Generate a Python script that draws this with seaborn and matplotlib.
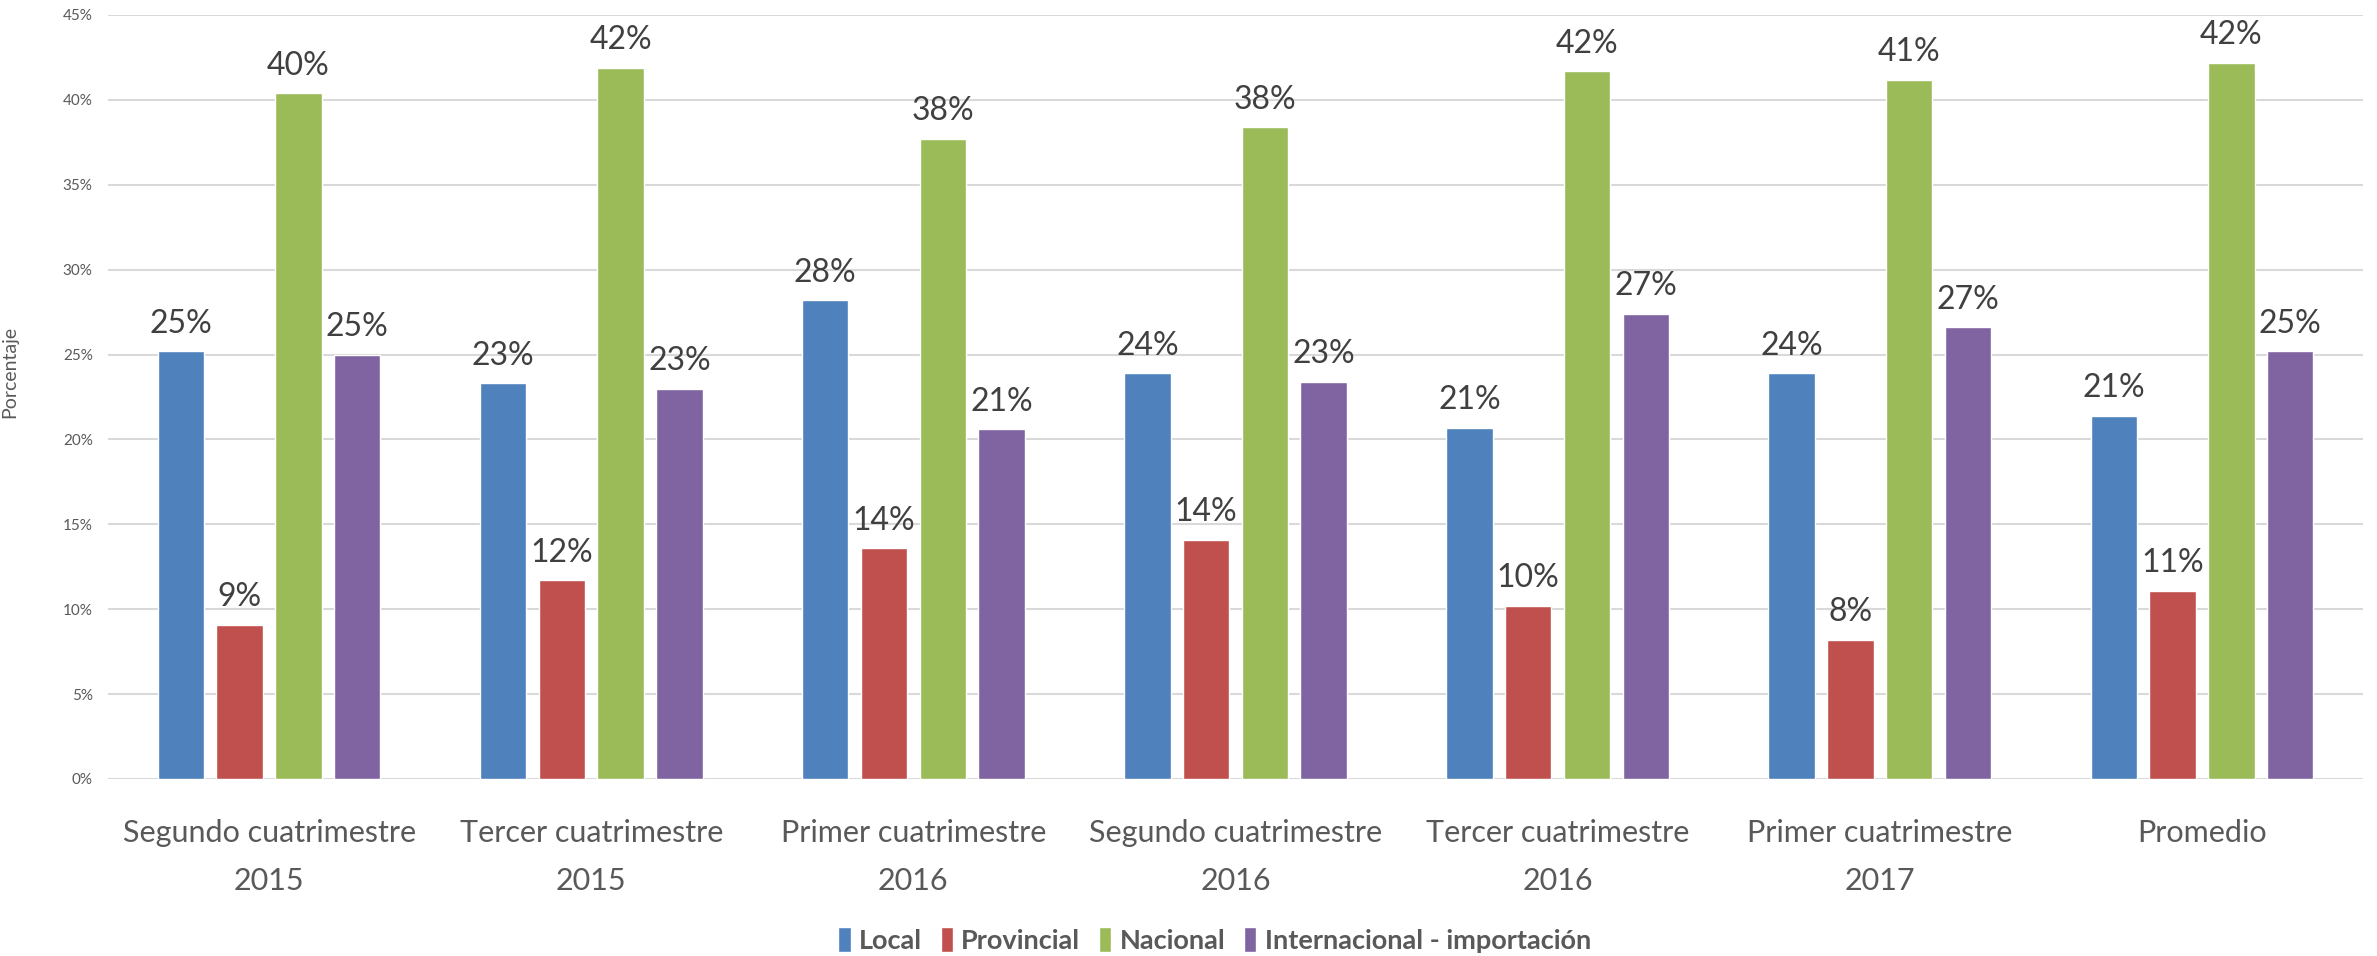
import pandas as pd
import matplotlib
matplotlib.use("Agg")
import matplotlib.pyplot as plt
import seaborn as sns

# data (percent)
periodos = [
    "Segundo cuatrimestre\n2015",
    "Tercer cuatrimestre\n2015",
    "Primer cuatrimestre\n2016",
    "Segundo cuatrimestre\n2016",
    "Tercer cuatrimestre\n2016",
    "Primer cuatrimestre\n2017",
    "Promedio",
]
origenes = ["Local", "Provincial", "Nacional", "Internacional - importación"]

local = [25.2, 23.3, 28.2, 23.9, 20.7, 23.9, 21.4]
provincial = [9.1, 11.7, 13.6, 14.1, 10.2, 8.2, 11.1]
nacional = [40.4, 41.9, 37.7, 38.4, 41.7, 41.2, 42.2]
internacional = [25.0, 23.0, 20.6, 23.4, 27.4, 26.6, 25.2]

colores = ["#4F81BD", "#C0504D", "#9BBB59", "#8064A2"]

df = pd.DataFrame({
    "periodo": periodos * 4,
    "origen": [o for o in origenes for _ in periodos],
    "valor": local + provincial + nacional + internacional,
})

sns.set_theme(style="white")
plt.rcParams["font.family"] = ["Lato", "DejaVu Sans"]

fig = plt.figure(figsize=(23.77, 9.56), dpi=100)
ax = fig.add_axes([108 / 2377, 1 - 779 / 956, 2255 / 2377, 764 / 956])

sns.barplot(
    data=df,
    x="periodo",
    y="valor",
    hue="origen",
    hue_order=origenes,
    order=periodos,
    palette=colores,
    width=0.73,
    gap=0.21,
    saturation=1,
    ax=ax,
)

for cont in ax.containers:
    ax.bar_label(
        cont,
        labels=[f"{v:.0f}%" for v in cont.datavalues],
        padding=9,
        fontsize=23,
        color="#404040",
    )

ax.set_xlim(-0.5, 6.5)
ax.set_ylim(0, 45)
ax.set_yticks(range(0, 50, 5))
ax.set_yticklabels([f"{t}%" for t in range(0, 50, 5)])
ax.tick_params(axis="y", length=0, pad=11, labelsize=11, labelcolor="#595959")
ax.tick_params(axis="x", length=0, pad=29, labelsize=22, labelcolor="#595959")
for t in ax.get_xticklabels():
    t.set_linespacing(1.85)

ax.yaxis.grid(True, color="#D9D9D9", linewidth=1.5)
ax.set_axisbelow(True)
for s in ax.spines.values():
    s.set_visible(False)

ax.set_xlabel("")
ax.set_ylabel("Porcentaje", fontsize=14, color="#595959")
ax.yaxis.set_label_coords(-0.040, 0.533)

handles, labels = ax.get_legend_handles_labels()
ax.legend_.remove()
fig.legend(
    handles,
    labels,
    loc="center",
    bbox_to_anchor=(0.511, 0.0167),
    ncol=4,
    frameon=False,
    prop={"size": 19.5, "weight": "bold"},
    labelcolor="#595959",
    handlelength=0.45,
    handleheight=1.0,
    handletextpad=0.3,
    columnspacing=0.7,
)

fig.savefig("out.png", dpi=100)
plt.close(fig)
